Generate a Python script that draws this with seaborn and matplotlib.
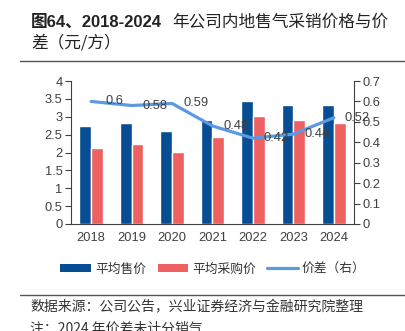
import numpy as np
import pandas as pd
import matplotlib
matplotlib.use("Agg")
import matplotlib.pyplot as plt
from matplotlib.patches import Patch
from matplotlib.lines import Line2D
import seaborn as sns

years = ["2018", "2019", "2020", "2021", "2022", "2023", "2024"]
sell_price = [2.74, 2.83, 2.61, 2.90, 3.43, 3.34, 3.34]
buy_price = [2.13, 2.24, 2.01, 2.43, 3.01, 2.90, 2.82]
spread = [0.60, 0.58, 0.59, 0.48, 0.42, 0.44, 0.52]
spread_labels = ["0.6", "0.58", "0.59", "0.48", "0.42", "0.44", "0.52"]
series_names = ["平均售价", "平均采购价", "价差（右）"]
left_ticks = [0, 0.5, 1, 1.5, 2, 2.5, 3, 3.5, 4]
left_ticklabels = ["0", "0.5", "1", "1.5", "2", "2.5", "3", "3.5", "4"]
right_ticks = [0, 0.1, 0.2, 0.3, 0.4, 0.5, 0.6, 0.7]
right_ticklabels = ["0", "0.1", "0.2", "0.3", "0.4", "0.5", "0.6", "0.7"]

C_BLUE = "#064d93"
C_RED = "#ef6060"
C_LINE = "#5b9ae0"
C_TICK = "#404040"
C_AXIS = "#404040"

sns.set_style("white")
CJK = ["Noto Sans CJK SC", "DejaVu Sans"]
NUM = ["Liberation Sans", "Noto Sans CJK SC"]
plt.rcParams["font.family"] = CJK

df = pd.DataFrame({
    "year": years * 2,
    "value": sell_price + buy_price,
    "series": [series_names[0]] * len(years) + [series_names[1]] * len(years),
})

fig = plt.figure(figsize=(4.06, 3.31), dpi=100)
ax = fig.add_axes([71 / 406, 1 - 224 / 331, (354 - 71) / 406, (224 - 81) / 331])

sns.barplot(data=df, x="year", y="value", hue="series", order=years,
            hue_order=series_names[:2], palette=[C_BLUE, C_RED],
            width=0.58, gap=0, ax=ax, legend=False, saturation=1)

ax.set_xlim(-0.5, len(years) - 0.5)
ax.set_ylim(0, 4)
ax.set_xlabel("")
ax.set_ylabel("")
ax.set_yticks(left_ticks)
ax.set_yticklabels(left_ticklabels, fontfamily=NUM, fontsize=9.3, color=C_TICK)
ax.set_xticks(np.arange(len(years)))
ax.set_xticklabels(years, fontfamily=NUM, fontsize=9.3, color=C_TICK)
ax.set_xticks(np.arange(len(years) + 1) - 0.5, minor=True)
ax.tick_params(axis="x", which="major", length=0, pad=6)
ax.tick_params(axis="x", which="minor", length=4, color=C_AXIS, width=0.8)
ax.tick_params(axis="y", length=4, color=C_AXIS, width=0.8, pad=2, left=True)
for s in ["top", "right"]:
    ax.spines[s].set_visible(False)
for s in ["left", "bottom"]:
    ax.spines[s].set_color(C_AXIS)
    ax.spines[s].set_linewidth(0.8)

ax2 = ax.twinx()
xpos = np.arange(len(years))
sns.lineplot(x=xpos, y=spread, ax=ax2, color=C_LINE, linewidth=2.3, legend=False)
ax2.set_ylim(0, 0.7)
ax2.set_xlim(-0.5, len(years) - 0.5)
ax2.set_yticks(right_ticks)
ax2.set_yticklabels(right_ticklabels, fontfamily=NUM, fontsize=9.3, color=C_TICK)
ax2.tick_params(axis="y", length=4, color=C_AXIS, width=0.8, pad=2, right=True)
for s in ["top", "left", "bottom"]:
    ax2.spines[s].set_visible(False)
ax2.spines["right"].set_color(C_AXIS)
ax2.spines["right"].set_linewidth(0.8)

for x, v, lab in zip(xpos, spread, spread_labels):
    ax2.annotate(lab, (x, v), xytext=(17, 0), textcoords="offset points",
                 ha="center", va="center", fontsize=9.3, color=C_TICK,
                 fontfamily=NUM)

# Title
TITLE_C = "#222222"
fig.text(31 / 406, 1 - 22 / 331, "图64、2018-2024", fontsize=12, fontweight="bold",
         color=TITLE_C, va="center", ha="left", fontfamily=NUM)
fig.text(172 / 406, 1 - 22 / 331, "年公司内地售气采销价格与价", fontsize=12,
         color=TITLE_C, va="center", ha="left", fontfamily=CJK)
fig.text(31 / 406, 1 - 43.5 / 331, "差（元/方）", fontsize=12,
         color=TITLE_C, va="center", ha="left", fontfamily=CJK)
fig.add_artist(Line2D([20 / 406, 1], [1 - 60.5 / 331] * 2, color="#555555", linewidth=1.0))

# Legend
handles = [
    Patch(facecolor=C_BLUE, edgecolor="none"),
    Patch(facecolor=C_RED, edgecolor="none"),
    Line2D([0], [0], color=C_LINE, linewidth=2.3),
]
fig.legend(handles, series_names, loc="center", bbox_to_anchor=(213 / 406, 1 - 269 / 331),
           ncol=3, frameon=False, fontsize=9.2, handlelength=2.4, handleheight=0.55,
           handletextpad=0.3, columnspacing=0.9, labelcolor="#333333",
           borderpad=0, borderaxespad=0)

# Footer
fig.add_artist(Line2D([20 / 406, 1], [1 - 294.5 / 331] * 2, color="#555555", linewidth=1.0))
fig.text(30 / 406, 1 - 307 / 331, "数据来源：公司公告，兴业证券经济与金融研究院整理",
         fontsize=10.0, color="#333333", va="center", ha="left", fontfamily=CJK)
fig.text(30 / 406, 1 - 329 / 331, "注：2024 年价差未计分销气",
         fontsize=10.0, color="#333333", va="center", ha="left", fontfamily=CJK)

fig.savefig("out.png", dpi=100)
